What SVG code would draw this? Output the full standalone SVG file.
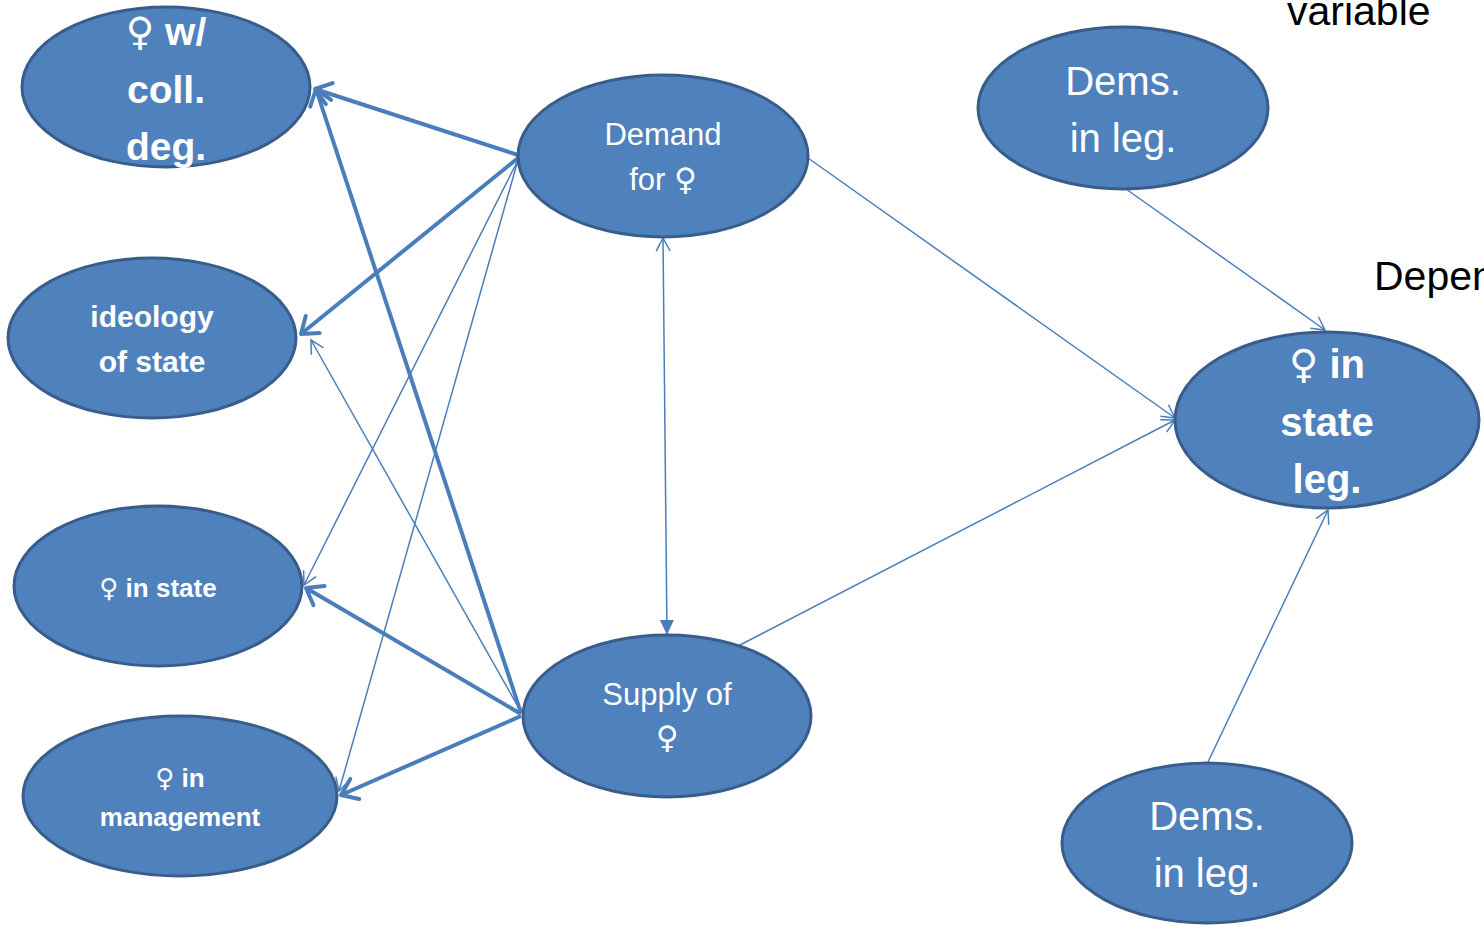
<svg xmlns="http://www.w3.org/2000/svg" width="1484" height="926" viewBox="0 0 1484 926">
<style>
.node{fill:#4F81BD;stroke:#385D8A;stroke-width:3}
.t{fill:#fff;font-family:"Liberation Sans","DejaVu Sans",sans-serif;text-anchor:middle}
.b{font-weight:bold}
.v{font-family:"DejaVu Sans",sans-serif;font-weight:normal}
.thick{stroke:#4A7EBB;stroke-width:4;fill:none;marker-end:url(#openThick)}
.thin{stroke:#4A7EBB;stroke-width:1.5;fill:none;marker-end:url(#openThin)}
.lbl{fill:#000;font-family:"Liberation Sans","DejaVu Sans",sans-serif;font-size:41px}
</style>
<defs>
<marker id="openThick" markerUnits="userSpaceOnUse" viewBox="-20 -15 24 30" markerWidth="24" markerHeight="30" refX="0" refY="0" orient="auto" overflow="visible">
<path d="M-15,-11 L0,0 L-15,11" fill="none" stroke="#4A7EBB" stroke-width="4" stroke-linecap="round" stroke-linejoin="round"/>
</marker>
<marker id="openThin" markerUnits="userSpaceOnUse" viewBox="-20 -15 24 30" markerWidth="24" markerHeight="30" refX="0" refY="0" orient="auto" overflow="visible">
<path d="M-13,-7 L0,0 L-13,7" fill="none" stroke="#4A7EBB" stroke-width="1.5"/>
</marker>
<marker id="openThinStart" markerUnits="userSpaceOnUse" viewBox="-20 -15 24 30" markerWidth="24" markerHeight="30" refX="0" refY="0" orient="auto-start-reverse" overflow="visible">
<path d="M-13,-7 L0,0 L-13,7" fill="none" stroke="#4A7EBB" stroke-width="1.5"/>
</marker>
<marker id="filledThin" markerUnits="userSpaceOnUse" viewBox="-20 -15 24 30" markerWidth="24" markerHeight="30" refX="0" refY="0" orient="auto" overflow="visible">
<path d="M-15,-7 L0,0 L-15,7 Z" fill="#4A7EBB"/>
</marker>
</defs>
<g id="connectors">
<path class="thick" d="M518,155 L315,89"/>
<path class="thick" d="M518,158 L301,334"/>
<path class="thick" d="M521,713 L316,89"/>
<path class="thick" d="M521,714 L306,588"/>
<path class="thick" d="M521,716 L341,795"/>
<path class="thin" d="M518,160 L304,585"/>
<path class="thin" d="M518,160 L339,791"/>
<path class="thin" d="M521,712 L311,340"/>
<path class="thin" d="M808,158 L1175,418"/>
<path class="thin" d="M738,646 L1175,420"/>
<path class="thin" d="M1126,189 L1325,330"/>
<path class="thin" d="M1208,762 L1328,510"/>
<path d="M663,238 L667,635" stroke="#4A7EBB" stroke-width="1.5" fill="none" marker-start="url(#openThinStart)" marker-end="url(#filledThin)"/>
</g>
<g id="n-colldeg">
<ellipse class="node" cx="166" cy="87" rx="144" ry="80"/>
<text class="t b" x="166" y="45" font-size="39"><tspan class="v">♀</tspan> w/</text>
<text class="t b" x="166" y="103" font-size="39">coll.</text>
<text class="t b" x="166" y="160" font-size="39">deg.</text>
</g>
<g id="n-ideology">
<ellipse class="node" cx="152" cy="338" rx="144" ry="80"/>
<text class="t b" x="152" y="327" font-size="30">ideology</text>
<text class="t b" x="152" y="372" font-size="30">of state</text>
</g>
<g id="n-instate">
<ellipse class="node" cx="158" cy="586" rx="144" ry="80"/>
<text class="t b" x="158" y="597" font-size="26"><tspan class="v">♀</tspan> in state</text>
</g>
<g id="n-management">
<ellipse class="node" cx="180" cy="796" rx="157" ry="80"/>
<text class="t b" x="180" y="787" font-size="26"><tspan class="v">♀</tspan> in</text>
<text class="t b" x="180" y="826" font-size="26">management</text>
</g>
<g id="n-demand">
<ellipse class="node" cx="663" cy="156" rx="145" ry="81"/>
<text class="t" x="663" y="145" font-size="31">Demand</text>
<text class="t" x="663" y="190" font-size="31">for <tspan class="v">♀</tspan></text>
</g>
<g id="n-supply">
<ellipse class="node" cx="667" cy="716" rx="144" ry="81"/>
<text class="t" x="667" y="705" font-size="31">Supply of</text>
<text class="t" x="667" y="748" font-size="31"><tspan class="v">♀</tspan></text>
</g>
<g id="n-dems-top">
<ellipse class="node" cx="1123" cy="108" rx="145" ry="81"/>
<text class="t" x="1123" y="95" font-size="40">Dems.</text>
<text class="t" x="1123" y="152" font-size="40">in leg.</text>
</g>
<g id="n-stateleg">
<ellipse class="node" cx="1327" cy="420" rx="152" ry="88"/>
<text class="t b" x="1327" y="378" font-size="40"><tspan class="v">♀</tspan> in</text>
<text class="t b" x="1327" y="436" font-size="40">state</text>
<text class="t b" x="1327" y="493" font-size="40">leg.</text>
</g>
<g id="n-dems-bottom">
<ellipse class="node" cx="1207" cy="843" rx="145" ry="80"/>
<text class="t" x="1207" y="830" font-size="40">Dems.</text>
<text class="t" x="1207" y="887" font-size="40">in leg.</text>
</g>
<text class="lbl" x="1287" y="25">variable</text>
<text class="lbl" x="1374" y="290">Dependent</text>
</svg>
